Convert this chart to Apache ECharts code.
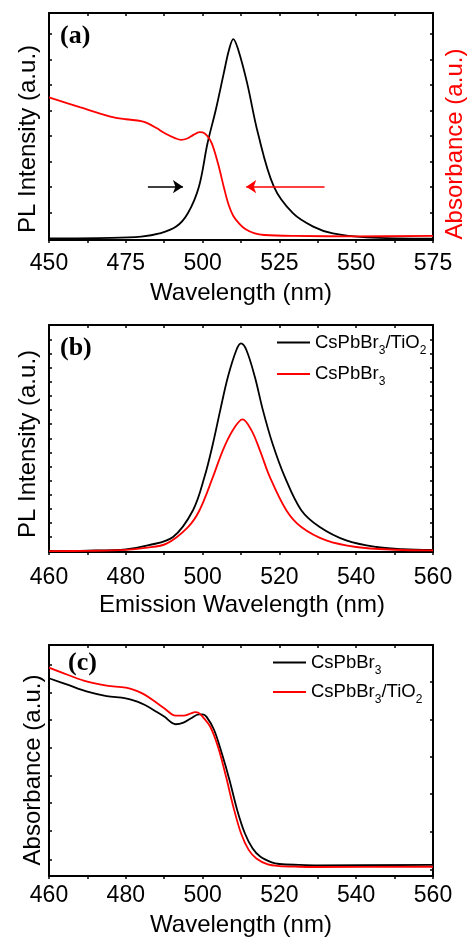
<!DOCTYPE html>
<html><head><meta charset="utf-8">
<script src="https://cdn.jsdelivr.net/npm/echarts@6/dist/echarts.min.js"></script>
<style>html,body{margin:0;padding:0;background:#fff}#c{width:471px;height:940px}</style>
</head><body><div id="c"></div>
<script>
// ---------- Panel (a) ----------
const aPlWl  = [450, 470, 480, 486, 491.4, 495.2, 498.8, 501.6, 504.3, 506.9, 508.6, 510, 511.6, 514.5, 518, 523.2, 529.4, 536, 542.4, 553.3, 575];
const aPl    = [0.007, 0.009, 0.015, 0.029, 0.059, 0.118, 0.235, 0.426, 0.574, 0.735, 0.838, 0.885, 0.838, 0.691, 0.471, 0.235, 0.118, 0.059, 0.029, 0.012, 0.006];
const aAbsWl = [450, 460, 470, 475, 480, 482, 485, 488, 491, 493, 495, 497, 499, 500, 501.5, 503, 505, 507, 508.5, 510, 512, 514, 517, 520, 530, 550, 575];
const aAbs   = [0.628, 0.585, 0.544, 0.532, 0.524, 0.515, 0.493, 0.468, 0.449, 0.441, 0.447, 0.463, 0.475, 0.474, 0.459, 0.426, 0.338, 0.228, 0.154, 0.106, 0.071, 0.047, 0.029, 0.022, 0.018, 0.016, 0.018];
const aArrowBlack = [482.2, 493.6, 0.235]; // from x, to x, y
const aArrowRed   = [539.7, 514.2, 0.235];
const aXTicks = [450, 475, 500, 525, 550, 575];
const aYTicks = [0.0075, 0.12, 0.2325, 0.345, 0.4575, 0.57, 0.6825, 0.795, 0.9075];

// ---------- Panel (b) ----------
const bTiWl = [460, 470, 480, 486, 492.3, 497.5, 500.5, 502.7, 504.6, 506.6, 508.8, 510, 511.4, 513.6, 515.7, 518.2, 521.4, 525.7, 530.5, 537.4, 545.2, 552, 560];
const bTi   = [0.004, 0.006, 0.012, 0.03, 0.066, 0.184, 0.331, 0.478, 0.625, 0.772, 0.89, 0.919, 0.89, 0.772, 0.625, 0.478, 0.331, 0.184, 0.11, 0.051, 0.022, 0.013, 0.009];
const bPbWl = [460, 470, 480, 485, 490.6, 496.2, 499.2, 502.7, 505.3, 507.9, 510.4, 512.7, 514.9, 517.5, 521.8, 525.7, 532.2, 540, 550, 560];
const bPb   = [0.004, 0.005, 0.009, 0.018, 0.037, 0.11, 0.184, 0.331, 0.449, 0.537, 0.584, 0.537, 0.449, 0.331, 0.184, 0.11, 0.051, 0.022, 0.01, 0.007];
const bXTicks = [460, 480, 500, 520, 540, 560];
const bYTicks = [0.006, 0.068, 0.13, 0.192, 0.254, 0.316, 0.377, 0.439, 0.501, 0.563, 0.625, 0.687, 0.749, 0.811, 0.873, 0.935];

// ---------- Panel (c) ----------
const cPbWl = [460, 465, 470, 475, 480, 483, 485, 488, 490, 493, 495, 497, 499, 500, 501, 503, 505, 507, 509, 511, 513, 515, 518, 520, 525, 530, 560];
const cPb   = [0.856, 0.827, 0.798, 0.779, 0.769, 0.755, 0.74, 0.711, 0.69, 0.657, 0.664, 0.683, 0.7, 0.7, 0.69, 0.632, 0.531, 0.416, 0.286, 0.185, 0.12, 0.084, 0.059, 0.052, 0.048, 0.046, 0.048];
const cTiWl = [460, 465, 470, 475, 480, 483, 485, 488, 490, 493, 495, 497, 498, 499, 500, 502, 504, 506, 508, 510, 512, 514, 517, 520, 525, 530, 560];
const cTi   = [0.902, 0.87, 0.841, 0.824, 0.815, 0.8, 0.784, 0.75, 0.726, 0.694, 0.694, 0.704, 0.709, 0.706, 0.69, 0.646, 0.56, 0.437, 0.3, 0.185, 0.113, 0.076, 0.05, 0.043, 0.04, 0.039, 0.04];
const cXTicks = [460, 480, 500, 520, 540, 560];
const cYTicksL = [0.072, 0.195, 0.315, 0.434, 0.557, 0.675, 0.794, 0.913];
const cYTicksR = [0.029, 0.192, 0.354, 0.516, 0.675, 0.841];

const FONT = '"Liberation Sans", Arial, sans-serif';
const SERIF = '"Liberation Serif", "Times New Roman", serif';
const BLACK = '#000000', RED = '#ff0000';

function pairs(xs, ys) { return xs.map((x, i) => [x, ys[i]]); }

const grids = [
  { left: 49, width: 384, top: 13, height: 227 },
  { left: 49, width: 384, top: 325, height: 227 },
  { left: 49, width: 384, top: 645, height: 231 }
];

function xAxes(gi, ticks, step, margin) {
  const base = {
    type: 'value', gridIndex: gi, min: ticks[0], max: ticks[ticks.length - 1], interval: step,
    splitLine: { show: false }, axisLine: { onZero: false, lineStyle: { color: BLACK, width: 2 } },
    minorTick: { show: true, splitNumber: 2, length: 3, lineStyle: { color: BLACK, width: 1.5 } }
  };
  return [
    Object.assign({}, base, { position: 'bottom',
      axisTick: { inside: false, length: 3, lineStyle: { color: BLACK, width: 1.5 } },
      axisLabel: { show: true, color: BLACK, fontSize: 23, fontFamily: FONT, margin: margin, showMinLabel: true, showMaxLabel: true } }),
    Object.assign({}, base, { position: 'top',
      axisTick: { inside: true, length: 3, lineStyle: { color: BLACK, width: 1.5 } },
      axisLabel: { show: false } })
  ];
}
function yAxis(gi, pos, ticks) {
  return {
    type: 'value', gridIndex: gi, position: pos, min: 0, max: 1,
    splitLine: { show: false }, axisLabel: { show: false },
    axisLine: { show: true, onZero: false, lineStyle: { color: BLACK, width: 2 } },
    axisTick: { show: true, inside: true, length: 3, customValues: ticks, lineStyle: { color: BLACK, width: 1.5 } }
  };
}

function lineSeries(name, xi, yi, xs, ys, color, extra) {
  return Object.assign({
    name: name, type: 'line', xAxisIndex: xi, yAxisIndex: yi, data: pairs(xs, ys),
    symbol: 'none', showSymbol: false, smooth: 0.35, silent: true,
    lineStyle: { color: color, width: 1.8 }, itemStyle: { color: color }
  }, extra || {});
}
function arrow(arr, color) {
  return {
    silent: true, symbol: ['none', 'arrow'], symbolSize: 10, label: { show: false },
    lineStyle: { color: color, width: 1.5, type: 'solid' }, itemStyle: { color: color },
    data: [[{ coord: [arr[0], arr[2]] }, { coord: [arr[1], arr[2]] }]]
  };
}

const rich = {
  t: { fontSize: 18.5, fontFamily: FONT, color: BLACK },
  s: { fontSize: 12, fontFamily: FONT, color: BLACK, padding: [16, 0, 0, 0] }
};
function fmt(name) {
  const n = name.split('|')[1];
  return n.replace(/(\d)/g, '}{s|$1}{t|').replace(/^/, '{t|') + '}';
}

const option = {
  animation: false,
  backgroundColor: '#ffffff',
  grid: grids,
  xAxis: [].concat(xAxes(0, aXTicks, 25, 12), xAxes(1, bXTicks, 20, 14), xAxes(2, cXTicks, 20, 8)),
  yAxis: [
    yAxis(0, 'left', aYTicks), yAxis(0, 'right', aYTicks),
    yAxis(1, 'left', bYTicks), yAxis(1, 'right', bYTicks),
    yAxis(2, 'left', cYTicksL), yAxis(2, 'right', cYTicksR)
  ],
  legend: [
    { data: ['b|CsPbBr3/TiO2', 'b|CsPbBr3'], orient: 'vertical', left: 277, top: 333, padding: 0,
      icon: 'rect', itemWidth: 33, itemHeight: 2, itemGap: 8, formatter: fmt, selectedMode: false,
      textStyle: { rich: rich } },
    { data: ['c|CsPbBr3', 'c|CsPbBr3/TiO2'], orient: 'vertical', left: 273, top: 653, padding: 0,
      icon: 'rect', itemWidth: 33, itemHeight: 2, itemGap: 6, formatter: fmt, selectedMode: false,
      textStyle: { rich: rich } }
  ],
  series: [
    lineSeries('a|PL', 0, 0, aPlWl, aPl, BLACK, { markLine: arrow(aArrowBlack, BLACK) }),
    lineSeries('a|Abs', 0, 1, aAbsWl, aAbs, RED, { markLine: arrow(aArrowRed, RED) }),
    lineSeries('b|CsPbBr3/TiO2', 2, 2, bTiWl, bTi, BLACK),
    lineSeries('b|CsPbBr3', 2, 2, bPbWl, bPb, RED),
    lineSeries('c|CsPbBr3', 4, 4, cPbWl, cPb, BLACK),
    lineSeries('c|CsPbBr3/TiO2', 4, 4, cTiWl, cTi, RED)
  ],
  graphic: [
    { type: 'text', x: 60, y: 36, style: { text: '(a)', font: 'bold 26px ' + SERIF, fill: BLACK, align: 'left', verticalAlign: 'middle', textAlign: 'left', textVerticalAlign: 'middle' } },
    { type: 'text', x: 60, y: 348, style: { text: '(b)', font: 'bold 26px ' + SERIF, fill: BLACK, align: 'left', verticalAlign: 'middle', textAlign: 'left', textVerticalAlign: 'middle' } },
    { type: 'text', x: 68, y: 663, style: { text: '(c)', font: 'bold 26px ' + SERIF, fill: BLACK, align: 'left', verticalAlign: 'middle', textAlign: 'left', textVerticalAlign: 'middle' } },
    { type: 'text', x: 28, y: 139, rotation: Math.PI / 2, style: { text: 'PL Intensity (a.u.)', font: '24px ' + FONT, fill: BLACK, align: 'center', verticalAlign: 'middle', textAlign: 'center', textVerticalAlign: 'middle' } },
    { type: 'text', x: 455, y: 144, rotation: Math.PI / 2, style: { text: 'Absorbance (a.u.)', font: '24px ' + FONT, fill: RED, align: 'center', verticalAlign: 'middle', textAlign: 'center', textVerticalAlign: 'middle' } },
    { type: 'text', x: 241, y: 293, style: { text: 'Wavelength (nm)', font: '24px ' + FONT, fill: BLACK, align: 'center', verticalAlign: 'middle', textAlign: 'center', textVerticalAlign: 'middle' } },
    { type: 'text', x: 28, y: 444, rotation: Math.PI / 2, style: { text: 'PL Intensity (a.u.)', font: '24px ' + FONT, fill: BLACK, align: 'center', verticalAlign: 'middle', textAlign: 'center', textVerticalAlign: 'middle' } },
    { type: 'text', x: 242, y: 605, style: { text: 'Emission Wavelength (nm)', font: '24px ' + FONT, fill: BLACK, align: 'center', verticalAlign: 'middle', textAlign: 'center', textVerticalAlign: 'middle' } },
    { type: 'text', x: 33, y: 770, rotation: Math.PI / 2, style: { text: 'Absorbance (a.u.)', font: '24px ' + FONT, fill: BLACK, align: 'center', verticalAlign: 'middle', textAlign: 'center', textVerticalAlign: 'middle' } },
    { type: 'text', x: 241, y: 925, style: { text: 'Wavelength (nm)', font: '24px ' + FONT, fill: BLACK, align: 'center', verticalAlign: 'middle', textAlign: 'center', textVerticalAlign: 'middle' } }
  ]
};

const chart = echarts.init(document.getElementById('c'), null, { renderer: 'canvas' });
chart.setOption(option);
</script>
</body></html>
